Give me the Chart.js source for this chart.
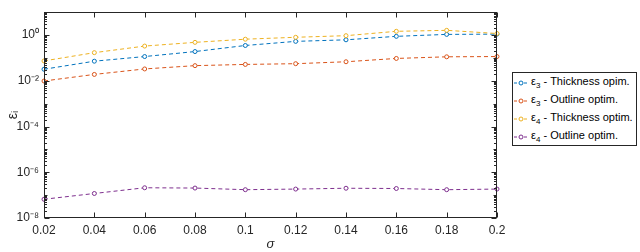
<!DOCTYPE html>
<html>
<head>
<meta charset="utf-8">
<script src="https://cdn.jsdelivr.net/npm/chart.js@4/dist/chart.umd.min.js"></script>
<style>
  body { margin: 0; background: #fff; }
  #wrap { position: relative; width: 640px; height: 252px; }
  #legend {
    position: absolute; left: 512px; top: 72px; width: 125px; height: 74px;
    border: 1px solid #262626; background: #fff;
    font-family: "Liberation Sans", Arial, sans-serif; font-size: 11px; color: #000;
    box-sizing: border-box; padding-top: 1px;
  }
  #legend .row { height: 18px; display: flex; align-items: center; white-space: nowrap; }
  #legend svg { margin-left: 1px; margin-right: 3px; }
  #legend sub { font-size: 8px; }
</style>
</head>
<body>
<div id="wrap">
  <canvas id="c" width="640" height="252"></canvas>
  <div id="legend"></div>
</div>
<script>
// x values
const sigma = [0.02, 0.04, 0.06, 0.08, 0.1, 0.12, 0.14, 0.16, 0.18, 0.2];

// series
const eps3Thick   = [0.032, 0.072, 0.115, 0.19, 0.35, 0.53, 0.62, 0.88, 1.07, 1.1];
const eps3Outline = [0.0098, 0.019, 0.033, 0.046, 0.052, 0.056, 0.068, 0.095, 0.112, 0.115];
const eps4Thick   = [0.074, 0.17, 0.33, 0.48, 0.66, 0.80, 0.94, 1.46, 1.61, 1.17];
const eps4Outline = [6.6e-8, 1.18e-7, 2.1e-7, 2.04e-7, 1.73e-7, 1.84e-7, 2.0e-7, 1.95e-7, 1.73e-7, 1.84e-7];

// labelled decades on the y axis
const yTickExps = [-8, -6, -4, -2, 0];

const seriesNames = [
  ["3", "Thickness opim."],
  ["3", "Outline optim."],
  ["4", "Thickness optim."],
  ["4", "Outline optim."]
];
const seriesColors = ["#0072BD", "#D95319", "#EDB120", "#7E2F8E"];
const seriesData = [eps3Thick, eps3Outline, eps4Thick, eps4Outline];

const sup = { "-": "⁻", "0": "⁰", "1": "¹", "2": "²", "3": "³", "4": "⁴", "5": "⁵", "6": "⁶", "7": "⁷", "8": "⁸", "9": "⁹" };
const toSup = s => String(s).split("").map(ch => sup[ch]).join("");

const FONT = "'Liberation Sans', Arial, sans-serif";

// MATLAB-like box with inward ticks
const boxTicks = {
  id: "boxTicks",
  afterDraw(chart) {
    const { ctx, chartArea: a, scales: { x, y } } = chart;
    ctx.save();
    ctx.strokeStyle = "#262626";
    ctx.lineWidth = 1;
    const L = Math.round(a.left) + 0.5, R = Math.round(a.right) - 0.5;
    const T = Math.round(a.top) + 0.5, B = Math.round(a.bottom) - 0.5;
    ctx.strokeRect(L, T, R - L, B - T);
    ctx.beginPath();
    sigma.forEach(s => {
      const px = Math.round(x.getPixelForValue(s)) + 0.5;
      ctx.moveTo(px, B); ctx.lineTo(px, B - 5);
      ctx.moveTo(px, T); ctx.lineTo(px, T + 5);
    });
    for (let k = -8; k <= 0; k++) {
      for (let m = 1; m <= 9; m++) {
        const v = m * Math.pow(10, k);
        const py = Math.round(y.getPixelForValue(v)) + 0.5;
        const len = m === 1 ? (k % 2 === 0 ? 5 : 3) : 2.5;
        ctx.moveTo(L, py); ctx.lineTo(L + len, py);
        ctx.moveTo(R, py); ctx.lineTo(R - len, py);
      }
    }
    ctx.stroke();
    ctx.restore();
  }
};

new Chart(document.getElementById("c"), {
  type: "line",
  data: {
    datasets: seriesData.map((vals, i) => ({
      label: seriesNames[i].join(" "),
      data: sigma.map((s, j) => ({ x: s, y: vals[j] })),
      borderColor: seriesColors[i],
      borderWidth: 1,
      borderDash: [4, 3],
      pointRadius: 2,
      pointBorderWidth: 1,
      pointBackgroundColor: "#fff",
      pointBorderColor: seriesColors[i],
      tension: 0,
      clip: 6,
      order: -i
    }))
  },
  options: {
    responsive: false,
    animation: false,
    layout: { padding: { top: 1, right: 143, left: 0, bottom: 0 } },
    plugins: {
      legend: { display: false },
      tooltip: { enabled: false }
    },
    scales: {
      x: {
        type: "linear",
        min: 0.02,
        max: 0.2,
        afterBuildTicks: s => { s.ticks = sigma.map(v => ({ value: v })); },
        afterFit: s => { s.height = 34; },
        grid: { display: false, drawTicks: false },
        border: { display: false },
        ticks: {
          padding: 5,
          color: "#262626",
          font: { family: FONT, size: 12 },
          maxRotation: 0,
          callback: v => String(Number(v.toFixed(2)))
        },
        title: {
          display: true,
          text: "σ",
          color: "#262626",
          padding: { top: 0, bottom: 0 },
          font: { family: FONT, size: 13, style: "italic" }
        }
      },
      y: {
        type: "logarithmic",
        min: 1e-8,
        max: 10,
        afterBuildTicks: s => { s.ticks = yTickExps.map(e => ({ value: Math.pow(10, e) })); },
        afterFit: s => { s.width = 44; },
        grid: { display: false, drawTicks: false },
        border: { display: false },
        ticks: {
          padding: 5,
          color: "#262626",
          font: { family: FONT, size: 12 },
          callback: v => "10" + toSup(Math.round(Math.log10(v)))
        },
        title: {
          display: true,
          text: "εᵢ",
          color: "#262626",
          padding: { top: 5, bottom: 2 },
          font: { family: FONT, size: 14 }
        }
      }
    }
  },
  plugins: [boxTicks]
});

// legend
const legend = document.getElementById("legend");
seriesNames.forEach((n, i) => {
  const c = seriesColors[i];
  legend.insertAdjacentHTML("beforeend",
    `<div class="row"><svg width="14" height="6"><line x1="0" y1="3" x2="14" y2="3" stroke="${c}" stroke-width="1" stroke-dasharray="3 2"/>` +
    `<circle cx="7" cy="3" r="2" fill="#fff" stroke="${c}" stroke-width="1"/></svg>` +
    `<span>ε<sub>${n[0]}</sub> - ${n[1]}</span></div>`);
});
</script>
</body>
</html>
